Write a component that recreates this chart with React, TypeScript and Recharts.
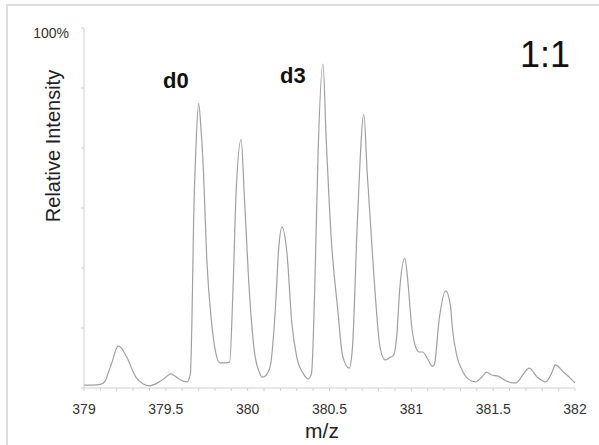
import { Line, LineChart, XAxis, YAxis } from "recharts";

// m/z positions of the profile trace
const mzValues = [
  379.0, 379.05, 379.1, 379.13, 379.15, 379.17, 379.19, 379.21, 379.23, 379.25,
  379.27, 379.3, 379.32, 379.36, 379.4, 379.43, 379.46, 379.5, 379.53, 379.56,
  379.59, 379.63, 379.65, 379.66, 379.67, 379.685, 379.7, 379.715, 379.73, 379.75,
  379.78, 379.8, 379.83, 379.86, 379.89, 379.91, 379.93, 379.96, 379.98, 380.01,
  380.04, 380.07, 380.09, 380.12, 380.14, 380.17, 380.19, 380.21, 380.24, 380.27,
  380.3, 380.34, 380.37, 380.39, 380.41, 380.43, 380.46, 380.48, 380.51, 380.55,
  380.58, 380.62, 380.64, 380.67, 380.71, 380.73, 380.77, 380.81, 380.84, 380.87,
  380.89, 380.91, 380.93, 380.96, 380.98, 381.0, 381.03, 381.05, 381.07, 381.1,
  381.13, 381.14, 381.17, 381.21, 381.24, 381.25, 381.28, 381.31, 381.34, 381.39,
  381.43, 381.46, 381.49, 381.53, 381.57, 381.62, 381.64, 381.68, 381.72, 381.77,
  381.82, 381.86, 381.88, 381.93, 381.97, 382.0,
];

// relative intensity (%) at each m/z above
const intensityValues = [
  0.8, 0.8, 1.0, 2.0, 4.5, 7, 10, 11.7, 11, 9.5,
  7.8, 4.5, 2.8, 1.2, 0.6, 1.0, 1.7, 3.0, 3.9, 3.2,
  2.2, 1.7, 4, 20, 47, 68, 79, 72, 60, 36,
  18, 11, 7, 7, 7.2, 27, 55, 69, 53, 27,
  10.5, 4.5, 3, 4, 6.5, 22.5, 39, 44.7, 37.5, 18,
  8.6, 4, 2.5, 4, 28, 65, 90, 69, 42, 22,
  9, 5.5, 11, 46, 76, 60, 32, 11, 7.8, 8.5,
  9, 14, 28, 36, 29, 18, 11, 10, 10, 8,
  6, 6.4, 19, 27, 22.5, 17, 8.6, 5, 2.8, 1.7,
  3, 4.4, 3.6, 3.3, 2.2, 1.4, 1.4, 3.6, 5.5, 3,
  1.7, 4.4, 6.4, 4.4, 2.8, 1.4,
];

const xTicks = [
  379.0, 379.1, 379.2, 379.3, 379.4, 379.5, 379.6, 379.7, 379.8, 379.9,
  380.0, 380.1, 380.2, 380.3, 380.4, 380.5, 380.6, 380.7, 380.8, 380.9,
  381.0, 381.1, 381.2, 381.3, 381.4, 381.5, 381.6, 381.7, 381.8, 381.9, 382.0,
];
const xLabels = [379, 379.5, 380, 380.5, 381, 381.5, 382];
const yTicks = [0, 16.67, 33.33, 50, 66.67, 83.33, 100];

const data = mzValues.map((mz, i) => ({ mz, intensity: intensityValues[i] }));

const font = '"Liberation Sans", Arial, Helvetica, sans-serif';
const frameColor = "#cfcfcf";

function formatX(value: number) {
  const match = xLabels.find((v) => Math.abs(v - value) < 1e-6);
  return match === undefined ? "" : String(match);
}

function YTick(props: any) {
  const { x, y, payload } = props;
  if (payload.value !== 100) return null;
  return (
    <text x={x} y={y + 5} dy="0.355em" textAnchor="end" fontSize={14} fill="#333" fontFamily={font}>
      100%
    </text>
  );
}

export default function App() {
  return (
    <div style={{ position: "absolute", left: 0, top: 0, width: 599, height: 445, background: "#fff" }}>
      <div
        style={{
          position: "absolute",
          left: 6,
          top: 4,
          width: 593,
          height: 441,
          borderTop: "2px solid #dcdcdc",
          borderLeft: "2px solid #dcdcdc",
        }}
      />
      <div style={{ position: "absolute", left: 0, top: 0 }}>
        <LineChart
          width={599}
          height={445}
          data={data}
          margin={{ top: 28, right: 24, bottom: 27, left: 44 }}
        >
          <XAxis
            dataKey="mz"
            type="number"
            domain={[379, 382]}
            ticks={xTicks}
            tickFormatter={formatX}
            interval={0}
            height={30}
            tickSize={3}
            tickMargin={13}
            stroke={frameColor}
            tick={{ fill: "#333", fontSize: 14, fontFamily: font }}
            allowDataOverflow
          />
          <XAxis
            xAxisId="top"
            dataKey="mz"
            type="number"
            orientation="top"
            domain={[379, 382]}
            height={0}
            tick={false}
            tickLine={false}
            stroke={frameColor}
          />
          <YAxis
            type="number"
            domain={[0, 100]}
            ticks={yTicks}
            interval={0}
            width={40}
            tickSize={3}
            tickMargin={12}
            stroke={frameColor}
            tick={<YTick />}
            allowDataOverflow
          />
          <YAxis
            yAxisId="right"
            orientation="right"
            domain={[0, 100]}
            width={0}
            tick={false}
            tickLine={false}
            stroke={frameColor}
          />
          <Line
            dataKey="intensity"
            type="monotone"
            stroke="#a0a0a0"
            strokeWidth={1.2}
            dot={false}
            isAnimationActive={false}
          />
        </LineChart>
      </div>
      <svg
        width={599}
        height={445}
        style={{ position: "absolute", left: 0, top: 0, pointerEvents: "none" }}
        fontFamily={font}
      >
        <text x={163} y={88} fontSize={22} fontWeight="bold" fill="#111">
          d0
        </text>
        <text x={280} y={83} fontSize={22} fontWeight="bold" fill="#111">
          d3
        </text>
        <text x={570} y={67} fontSize={36} textAnchor="end" fill="#111">
          1:1
        </text>
        <text
          x={60}
          y={146}
          fontSize={20}
          textAnchor="middle"
          fill="#222"
          transform="rotate(-90 60 146)"
        >
          Relative Intensity
        </text>
        <text x={322} y={438} fontSize={21} textAnchor="middle" fill="#222">
          m/z
        </text>
      </svg>
    </div>
  );
}
